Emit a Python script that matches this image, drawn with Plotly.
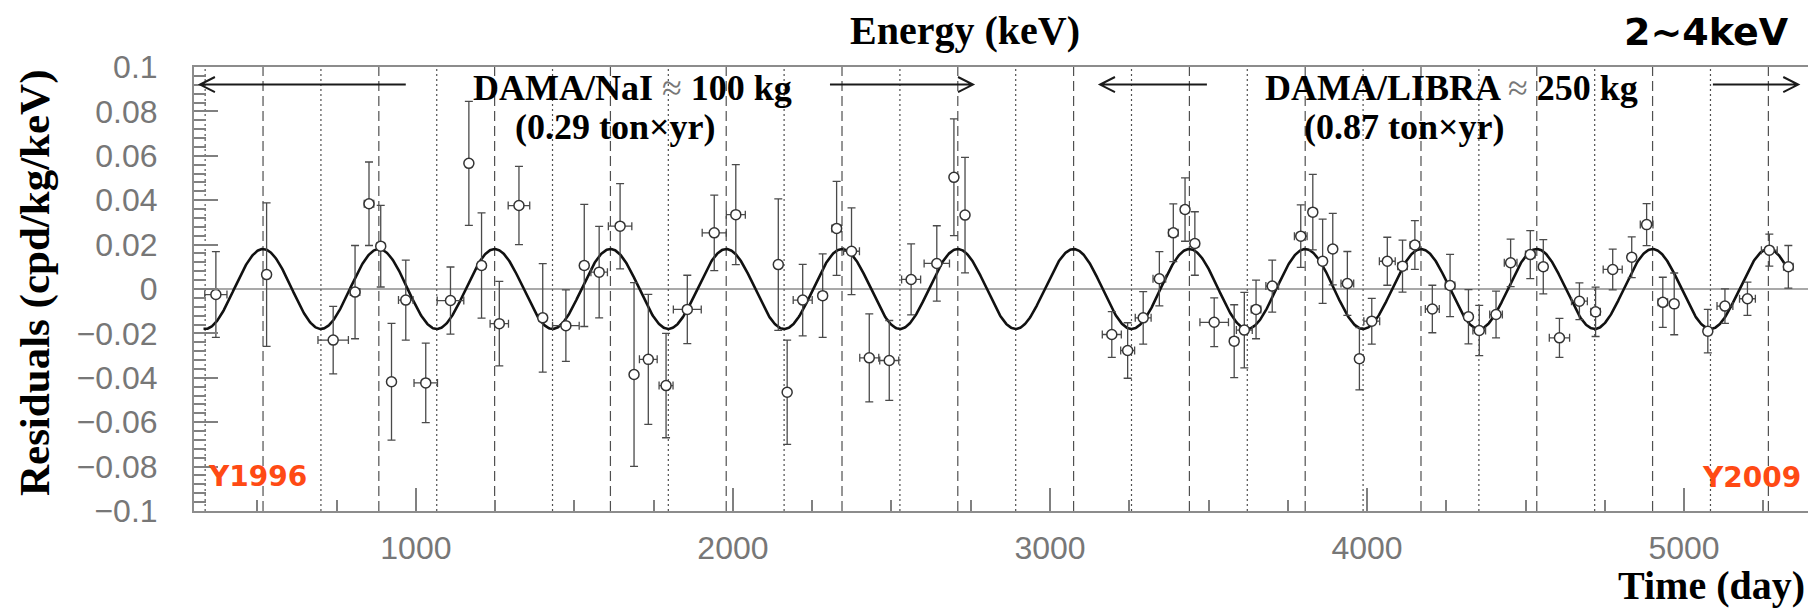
import numpy as np
import plotly.graph_objects as go

# Residual rate (cpd/kg/keV) in the 2-4 keV window, one entry per time bin
days = [369, 529, 739, 808, 852, 889, 923, 968, 1031, 1109,
        1167, 1207, 1263, 1325, 1400, 1473, 1531, 1578, 1644, 1688,
        1733, 1789, 1856, 1941, 2009, 2143, 2171, 2220, 2283, 2327,
        2374, 2430, 2493, 2562, 2643, 2697, 2732,
        3195, 3245, 3294, 3345, 3389, 3426, 3457, 3518, 3581, 3613,
        3650, 3701, 3791, 3829, 3860, 3892, 3938, 3976, 4015, 4064,
        4112, 4151, 4206, 4262, 4320, 4354, 4407, 4453, 4515, 4556,
        4607, 4670, 4721, 4775, 4835, 4882, 4933, 4969, 5075, 5129,
        5200, 5269, 5329]
residuals = [-0.0025, 0.0065, -0.0230, -0.0014, 0.0384, 0.0193, -0.0418, -0.0050, -0.0423, -0.0052,
             0.0566, 0.0106, -0.0156, 0.0376, -0.0130, -0.0165, 0.0106, 0.0076, 0.0283, -0.0385,
             -0.0317, -0.0435, -0.0092, 0.0253, 0.0335, 0.0110, -0.0465, -0.0050, -0.0030, 0.0273,
             0.0170, -0.0310, -0.0322, 0.0043, 0.0115, 0.0503, 0.0333,
             -0.0205, -0.0277, -0.0130, 0.0046, 0.0253, 0.0358, 0.0205, -0.0150, -0.0235, -0.0185,
             -0.0092, 0.0013, 0.0238, 0.0346, 0.0125, 0.0180, 0.0025, -0.0314, -0.0145, 0.0125,
             0.0103, 0.0198, -0.0090, 0.0016, -0.0125, -0.0187, -0.0115, 0.0118, 0.0155, 0.0100,
             -0.0220, -0.0055, -0.0103, 0.0088, 0.0143, 0.0290, -0.0060, -0.0067, -0.0190, -0.0077,
             -0.0044, 0.0175, 0.0100]
residual_err = [0.0193, 0.0323, 0.0152, 0.0210, 0.0188, 0.0184, 0.0263, 0.0180, 0.0179, 0.0151,
                0.0279, 0.0237, 0.0190, 0.0176, 0.0244, 0.0161, 0.0275, 0.0206, 0.0192, 0.0414,
                0.0293, 0.0235, 0.0154, 0.0170, 0.0225, 0.0296, 0.0235, 0.0161, 0.0188, 0.0212,
                0.0195, 0.0198, 0.0180, 0.0160, 0.0170, 0.0263, 0.0260,
                0.0103, 0.0125, 0.0118, 0.0122, 0.0130, 0.0143, 0.0143, 0.0110, 0.0164, 0.0170,
                0.0132, 0.0117, 0.0141, 0.0170, 0.0190, 0.0161, 0.0144, 0.0140, 0.0103, 0.0108,
                0.0117, 0.0110, 0.0107, 0.0140, 0.0122, 0.0113, 0.0105, 0.0107, 0.0108, 0.0122,
                0.0088, 0.0083, 0.0111, 0.0092, 0.0092, 0.0095, 0.0113, 0.0139, 0.0098, 0.0078,
                0.0075, 0.0072, 0.0096]
day_err = [35, 10, 48, 15, 15, 12, 10, 23, 37, 42,
           10, 12, 29, 34, 12, 42, 12, 26, 37, 10,
           28, 22, 44, 38, 30, 10, 10, 30, 12, 15,
           25, 30, 30, 30, 40, 10, 10,
           30, 22, 25, 20, 15, 12, 12, 45, 12, 25,
           15, 20, 20, 12, 12, 12, 20, 12, 25, 25,
           15, 15, 22, 15, 12, 20, 20, 20, 15, 12,
           32, 25, 15, 30, 12, 20, 15, 12, 12, 25,
           25, 25, 15]

# Fitted annual modulation A*cos(2*pi/T*(t - t0)), t0 = 2 June
AMPLITUDE = 0.018
PERIOD = 365.25
PHASE = 152.5
FIT_SPAN = [330, 5330]

x_tickvals = [1000, 2000, 3000, 4000, 5000]
x_ticktext = ["1000", "2000", "3000", "4000", "5000"]
y_tickvals = [0.1, 0.08, 0.06, 0.04, 0.02, 0, -0.02, -0.04, -0.06, -0.08, -0.1]
y_ticktext = ["0.1", "0.08", "0.06", "0.04", "0.02", "0",
              "\u22120.02", "\u22120.04", "\u22120.06", "\u22120.08", "\u22120.1"]

X_RANGE = [300, 5391]
Y_RANGE = [-0.1, 0.1]

W, H = 1808, 610
ML, MR, MT, MB = 194, 0, 67, 99
PW, PH = W - ML - MR, H - MT - MB


def paper(x_px, y_px):
    """Pixel position on the page -> paper coordinates."""
    return (x_px - ML) / PW, (H - MB - y_px) / PH


SERIF = "Liberation Serif, Times New Roman, serif"
SANS = "Liberation Sans, Arial, sans-serif"
BOLD_SANS = "DejaVu Sans, Verdana, sans-serif"

fig = go.Figure()

# modulation curve
t_curve = np.arange(FIT_SPAN[0], FIT_SPAN[1] + 1, 2.0)
fig.add_trace(go.Scatter(
    x=t_curve,
    y=AMPLITUDE * np.cos(2 * np.pi / PERIOD * (t_curve - PHASE)),
    mode="lines", line=dict(color="#111111", width=2.6),
    hoverinfo="skip", showlegend=False,
))

# data points with error bars
fig.add_trace(go.Scatter(
    x=days, y=residuals, mode="markers",
    marker=dict(symbol="circle", size=10, color="white",
                line=dict(color="#333333", width=1.5)),
    error_y=dict(type="data", array=residual_err, visible=True,
                 color="#4a4a4a", thickness=1.3, width=4),
    error_x=dict(type="data", array=day_err, visible=True,
                 color="#4a4a4a", thickness=1.3, width=4),
    showlegend=False,
))

shapes = []
# 2 June (dashed) and 2 December (dotted) markers
k = 0
while PHASE + PERIOD * (k - 1) <= X_RANGE[1]:
    for t, dash in ((PHASE + PERIOD * k, "10px,5px"), (PHASE + PERIOD * (k + 0.5), "2px,3px")):
        if X_RANGE[0] <= t <= X_RANGE[1]:
            shapes.append(dict(type="line", xref="x", yref="paper", x0=t, x1=t, y0=0, y1=1,
                               line=dict(color="#505050", width=1.2, dash=dash), layer="below"))
    k += 1

# zero line
shapes.append(dict(type="line", xref="paper", yref="y", x0=0, x1=1, y0=0, y1=0,
                   line=dict(color="#555555", width=1.2), layer="below"))

# period arrows: (tail, tip)
arrow_y = 0.0921
head_len = 47
head_half = 0.0034
for tail, tip in ((968, 319), (2306, 2757), (3495, 3158), (5091, 5360)):
    d = 1 if tail > tip else -1
    path = (f"M{tail},{arrow_y} L{tip},{arrow_y} "
            f"M{tip + d * head_len},{arrow_y + head_half} L{tip},{arrow_y} "
            f"L{tip + d * head_len},{arrow_y - head_half}")
    shapes.append(dict(type="path", xref="x", yref="y", path=path,
                       line=dict(color="#1a1a1a", width=2)))

annotations = []


def label(text, x_px, y_px, size, family, xanchor="center", color="black", angle=0):
    px, py = paper(x_px, y_px)
    annotations.append(dict(text=text, x=px, y=py, xref="paper", yref="paper",
                            xanchor=xanchor, yanchor="middle", showarrow=False,
                            textangle=angle, borderpad=0,
                            font=dict(size=size, family=family, color=color)))


approx = "<span style='color:#777777;font-weight:normal'>\u2248</span>"
label("<b>Energy (keV)</b>", 965, 30, 40, SERIF)
label("<b>2~4keV</b>", 1790, 32, 38, BOLD_SANS, xanchor="right")
label(f"<b>DAMA/NaI {approx} 100 kg</b>", 632, 88, 36, SERIF)
label("<b>(0.29 ton\u00d7yr)</b>", 615, 127, 36, SERIF)
label(f"<b>DAMA/LIBRA {approx} 250 kg</b>", 1451, 88, 36, SERIF)
label("<b>(0.87 ton\u00d7yr)</b>", 1404, 127, 36, SERIF)
label("<b>Y1996</b>", 207, 476, 28, BOLD_SANS, xanchor="left", color="#ff4a14")
label("<b>Y2009</b>", 1802, 477, 28, BOLD_SANS, xanchor="right", color="#ff4a14")
label("<b>Residuals (cpd/kg/keV)</b>", 35, 283, 43, SERIF, angle=-90)
label("<b>Time (day)</b>", 1806, 585, 40, SERIF, xanchor="right")

fig.update_layout(
    width=W, height=H,
    margin=dict(l=ML, r=MR, t=MT, b=MB, pad=0),
    paper_bgcolor="white", plot_bgcolor="white",
    shapes=shapes, annotations=annotations,
    xaxis=dict(
        range=X_RANGE, showgrid=False, zeroline=False,
        showline=True, linecolor="#8c8c8c", linewidth=2, mirror=True,
        ticks="inside", ticklen=23, tickwidth=1.5, tickcolor="#808080",
        tickvals=x_tickvals, ticktext=x_ticktext,
        tickfont=dict(family=SANS, size=32, color="#777777"),
        ticklabelstandoff=8,
        minor=dict(ticks="inside", ticklen=11, tickwidth=1.5, tickcolor="#808080",
                   dtick=250, tick0=0, showgrid=False),
    ),
    yaxis=dict(
        range=Y_RANGE, showgrid=False, zeroline=False,
        showline=True, linecolor="#8c8c8c", linewidth=2, mirror=False,
        ticks="inside", ticklen=24, tickwidth=1.5, tickcolor="#808080",
        tickvals=y_tickvals, ticktext=y_ticktext,
        tickfont=dict(family=SANS, size=32, color="#777777"),
        ticklabelstandoff=28,
        minor=dict(ticks="inside", ticklen=12, tickwidth=1.5, tickcolor="#808080",
                   dtick=0.004, tick0=0, showgrid=False),
    ),
)

fig.write_html("out.html")
